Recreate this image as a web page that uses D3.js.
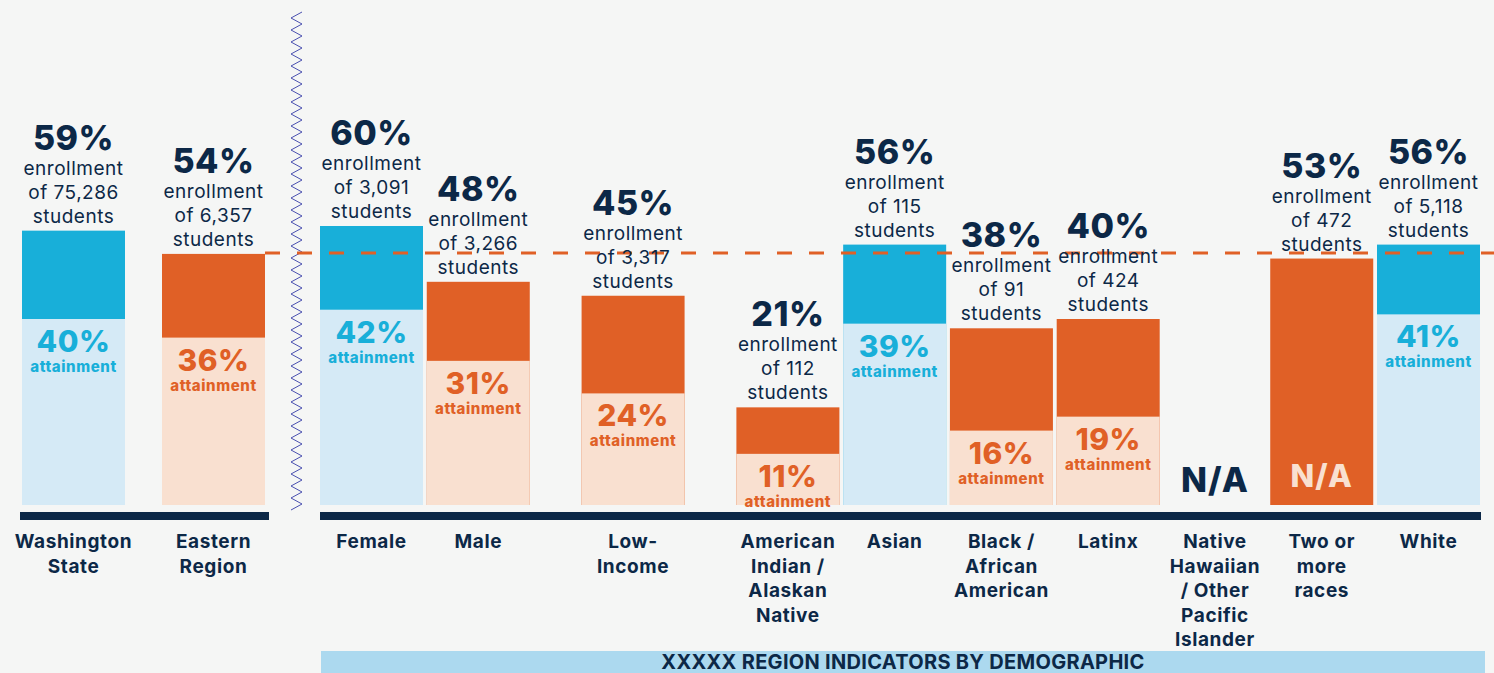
<!DOCTYPE html>
<html>
<head>
<meta charset="utf-8">
<script src="https://cdn.jsdelivr.net/npm/d3@7"></script>
<style>
    body { margin: 0; background: #f5f6f5; }
    svg { display: block; font-family: Inter, 'Noto Sans', sans-serif; }
</style>
</head>
<body>
<div class="main_content"></div>
<script>
// State / region benchmarks
const stateCats = ['Washington State', 'Eastern Region'];
const stateLabels = [['Washington', 'State'], ['Eastern', 'Region']];
const stateEnroll = [59, 54];
const stateAttain = [40, 36];
const stateStudents = ['75,286', '6,357'];

// Region by demographic
const demoCats = ['Female', 'Male', 'Low-Income', 'American Indian / Alaskan Native', 'Asian',
    'Black / African American', 'Latinx', 'Native Hawaiian / Other Pacific Islander', 'Two or more races', 'White'];
const demoLabels = [['Female'], ['Male'], ['Low-', 'Income'], ['American', 'Indian /', 'Alaskan', 'Native'], ['Asian'],
    ['Black /', 'African', 'American'], ['Latinx'], ['Native', 'Hawaiian', '/ Other', 'Pacific', 'Islander'], ['Two or', 'more', 'races'], ['White']];
const demoGroup = [0, 0, 1, 2, 2, 2, 2, 2, 2, 2];
const demoEnroll = [60, 48, 45, 21, 56, 38, 40, null, 53, 56];
const demoAttain = [42, 31, 24, 11, 39, 16, 19, null, null, 41];
const demoStudents = ['3,091', '3,266', '3,317', '112', '115', '91', '424', null, '472', '5,118'];

const regionBenchmark = stateEnroll[1];
const bannerText = 'XXXXX REGION INDICATORS BY DEMOGRAPHIC';

const colors = {
    navy: '#0c2847', blue: '#18afd9', lightBlue: '#d5eaf6',
    orange: '#e06026', lightOrange: '#f9e0d0', banner: '#acd9ef', zig: '#4a50b0'
};

const width = 1494, height = 673, baseY = 505, barW = 103;

let svg = d3.select('.main_content').append('svg')
    .attr('width', width)
    .attr('height', height);

svg.append('rect').attr('width', width).attr('height', height).attr('fill', '#f5f6f5');

// Scales
let yScale = d3.scaleLinear().domain([0, 100]).range([baseY, baseY - 465]);

let xState = d3.scaleBand().domain(stateCats).range([22, 265]).paddingInner(37 / 140).paddingOuter(0);

// demographic slots, with extra room between groups
let slotOf = demoCats.map((c, i) => i + demoGroup[i] * 0.45);
let xSlot = d3.scaleLinear().domain([0, d3.max(slotOf)]).range([320, 1377]);

let rows = stateCats.map((c, i) => ({
    cat: c, label: stateLabels[i], enroll: stateEnroll[i], attain: stateAttain[i],
    students: stateStudents[i], x: xState(c)
})).concat(demoCats.map((c, i) => ({
    cat: c, label: demoLabels[i], enroll: demoEnroll[i], attain: demoAttain[i],
    students: demoStudents[i], x: xSlot(slotOf[i])
})));

rows.forEach(d => {
    d.hi = d.enroll !== null && d.enroll > regionBenchmark;
    d.cx = d.x + barW / 2;
});

// Zigzag separator
let zig = [];
for (let y = 12, k = 0; y <= 514; y += 6, k++) zig.push([k % 2 ? 291 : 302, y]);
svg.append('path')
    .attr('d', d3.line()(zig))
    .attr('fill', 'none')
    .attr('stroke', colors.zig)
    .attr('stroke-width', 1);

// Bars
let bars = svg.append('g').selectAll('g')
    .data(rows.filter(d => d.enroll !== null))
    .enter().append('g');

bars.append('rect')
    .attr('x', d => d.x)
    .attr('y', d => yScale(d.enroll))
    .attr('width', barW)
    .attr('height', d => baseY - yScale(d.enroll))
    .style('fill', d => d.hi ? colors.blue : colors.orange);

bars.filter(d => d.attain !== null).append('rect')
    .attr('x', d => d.x)
    .attr('y', d => yScale(d.attain))
    .attr('width', barW)
    .attr('height', d => baseY - yScale(d.attain))
    .style('fill', d => d.hi ? colors.lightBlue : colors.lightOrange);

// Benchmark dashed line (starts at the region bar's right edge)
svg.append('line')
    .attr('x1', xState(stateCats[1]) + barW)
    .attr('x2', width)
    .attr('y1', yScale(regionBenchmark) - 1)
    .attr('y2', yScale(regionBenchmark) - 1)
    .attr('stroke', colors.orange)
    .attr('stroke-width', 3)
    .attr('stroke-dasharray', '15,17');

// Enrollment labels
let enr = svg.append('g').selectAll('g')
    .data(rows.filter(d => d.enroll !== null))
    .enter().append('g')
    .attr('text-anchor', 'middle')
    .attr('fill', colors.navy);

enr.append('text')
    .attr('x', d => d.cx)
    .attr('y', d => yScale(d.enroll) - 81)
    .style('font-size', '34px')
    .style('font-weight', 800)
    .style('letter-spacing', '0.5px')
    .text(d => d.enroll + '%');

['enrollment', 'of ', 'students'].forEach((t, i) => {
    enr.append('text')
        .attr('x', d => d.cx)
        .attr('y', d => yScale(d.enroll) - 56 + i * 24)
        .style('font-size', '19px')
        .style('letter-spacing', '0.5px')
        .text(d => i === 1 ? t + d.students : t);
});

// Attainment labels
let att = svg.append('g').selectAll('g')
    .data(rows.filter(d => d.attain !== null))
    .enter().append('g')
    .attr('text-anchor', 'middle')
    .attr('fill', d => d.hi ? colors.blue : colors.orange);

att.append('text')
    .attr('x', d => d.cx)
    .attr('y', d => yScale(d.attain) + 33)
    .style('font-size', '30px')
    .style('font-weight', 800)
    .style('letter-spacing', '0.5px')
    .text(d => d.attain + '%');

att.append('text')
    .attr('x', d => d.cx)
    .attr('y', d => yScale(d.attain) + 53)
    .style('font-size', '15px')
    .style('font-weight', 800)
    .style('letter-spacing', '0.6px')
    .text('attainment');

// N/A markers
svg.selectAll('.na')
    .data(rows.filter(d => d.attain === null))
    .enter().append('text')
    .classed('na', true)
    .attr('x', d => d.cx)
    .attr('y', d => d.enroll === null ? 492 : 487)
    .attr('text-anchor', 'middle')
    .style('font-size', d => d.enroll === null ? '34px' : '31px')
    .style('font-weight', 800)
    .style('letter-spacing', '1px')
    .style('fill', d => d.enroll === null ? colors.navy : colors.lightOrange)
    .text('N/A');

// Axis bars
svg.append('rect').attr('x', 20).attr('y', 512).attr('width', 249).attr('height', 8).attr('fill', colors.navy);
svg.append('rect').attr('x', 320).attr('y', 512).attr('width', 1161).attr('height', 8).attr('fill', colors.navy);

// Category labels
let cats = svg.append('g').selectAll('text')
    .data(rows)
    .enter().append('text')
    .attr('text-anchor', 'middle')
    .attr('fill', colors.navy)
    .style('font-size', '19px')
    .style('font-weight', 700)
    .style('letter-spacing', '0.6px');

cats.selectAll('tspan')
    .data(d => d.label.map(l => ({l: l, cx: d.cx})))
    .enter().append('tspan')
    .attr('x', d => d.cx)
    .attr('y', (d, i) => 548 + i * 24.5)
    .text(d => d.l);

// Banner
svg.append('rect').attr('x', 321).attr('y', 651).attr('width', 1164).attr('height', 25).attr('fill', colors.banner);
svg.append('text')
    .attr('x', 903)
    .attr('y', 669)
    .attr('text-anchor', 'middle')
    .attr('fill', colors.navy)
    .style('font-size', '20px')
    .style('font-weight', 700)
    .style('letter-spacing', '0.3px')
    .text(bannerText);
</script>
</body>
</html>
